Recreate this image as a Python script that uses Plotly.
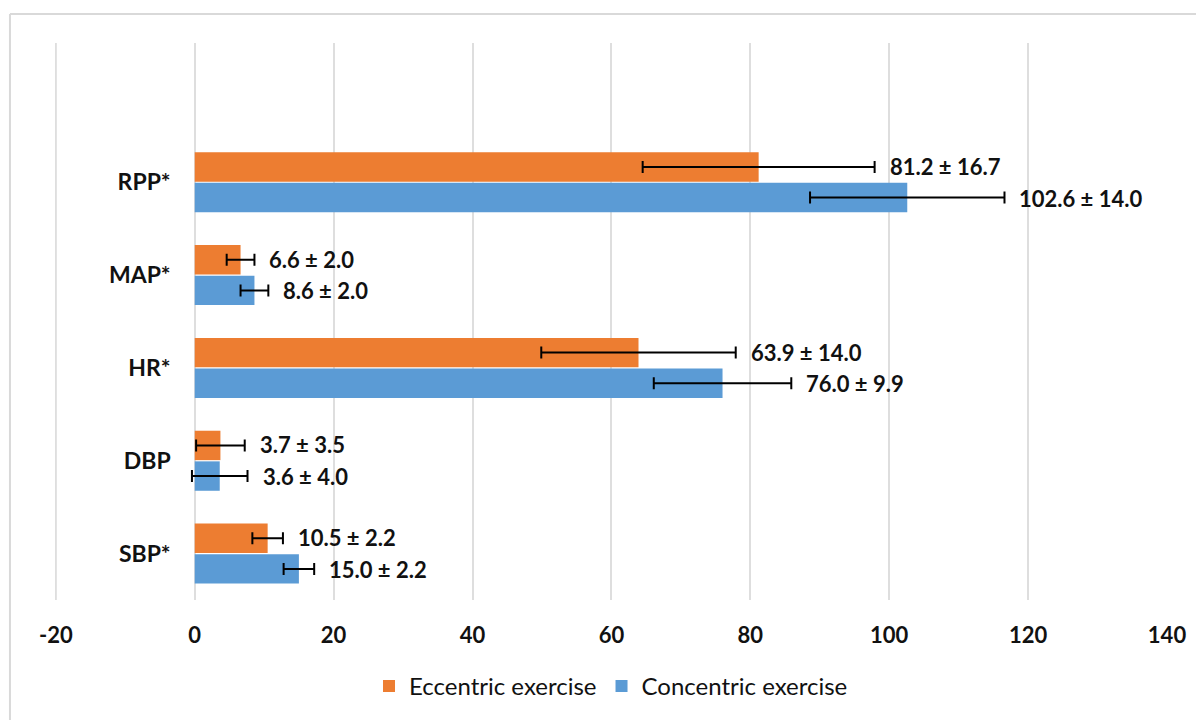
import plotly.graph_objects as go

categories = ["SBP*", "DBP", "HR*", "MAP*", "RPP*"]
eccentric_mean = [10.5, 3.7, 63.9, 6.6, 81.2]
eccentric_sd = [2.2, 3.5, 14.0, 2.0, 16.7]
concentric_mean = [15.0, 3.6, 76.0, 8.6, 102.6]
concentric_sd = [2.2, 4.0, 9.9, 2.0, 14.0]
x_ticks = [-20, 0, 20, 40, 60, 80, 100, 120, 140]

ORANGE = "#ED7D31"
BLUE = "#5B9BD5"
FONT = "Lato"
GRID = "#dedede"

ypos = list(range(len(categories)))

fig = go.Figure()
fig.add_trace(go.Bar(
    y=ypos, x=concentric_mean, orientation="h", name="Concentric exercise",
    marker=dict(color=BLUE, line=dict(width=0)),
    error_x=dict(type="data", array=concentric_sd, visible=True, color="black", thickness=2, width=6),
    legendrank=2,
))
fig.add_trace(go.Bar(
    y=ypos, x=eccentric_mean, orientation="h", name="Eccentric exercise",
    marker=dict(color=ORANGE, line=dict(width=0)),
    error_x=dict(type="data", array=eccentric_sd, visible=True, color="black", thickness=2, width=6),
    legendrank=1,
))

annotations = []
for i in ypos:
    annotations.append(dict(
        x=eccentric_mean[i] + eccentric_sd[i], y=i + 0.17, xref="x", yref="y",
        text=f"{eccentric_mean[i]:.1f} ± {eccentric_sd[i]:.1f}", showarrow=False,
        xanchor="left", yanchor="middle", xshift=13,
        font=dict(family=FONT, size=22, color="#111111", weight="bold"),
    ))
    annotations.append(dict(
        x=concentric_mean[i] + concentric_sd[i], y=i - 0.17, xref="x", yref="y",
        text=f"{concentric_mean[i]:.1f} ± {concentric_sd[i]:.1f}", showarrow=False,
        xanchor="left", yanchor="middle", xshift=13,
        font=dict(family=FONT, size=22, color="#111111", weight="bold"),
    ))

shapes = [
    # outer chart border (top and left edges visible in the reference)
    dict(type="line", xref="paper", yref="paper", x0=-0.0405, x1=1.2, y0=1.052, y1=1.052,
         line=dict(color="#d9d9d9", width=2)),
    dict(type="line", xref="paper", yref="paper", x0=-0.0405, x1=-0.0405, y0=1.052, y1=-0.35,
         line=dict(color="#d9d9d9", width=2)),
    # leftmost gridline at the first tick
    dict(type="line", xref="x", yref="paper", x0=x_ticks[0], x1=x_ticks[0], y0=0, y1=1,
         line=dict(color=GRID, width=2), layer="below"),
]

fig.update_layout(
    width=1196, height=712,
    margin=dict(l=47, r=37, t=35, b=120, autoexpand=False),
    paper_bgcolor="white", plot_bgcolor="white",
    barmode="group", bargap=0.34, bargroupgap=0.04,
    font=dict(family=FONT, color="#111111"),
    xaxis=dict(
        range=[-20.12, 140], tickvals=x_ticks, ticktext=[str(t) for t in x_ticks],
        showgrid=True, gridcolor=GRID, gridwidth=2,
        zeroline=True, zerolinecolor=GRID, zerolinewidth=2,
        showline=False, ticks="", ticklabelstandoff=20,
        tickfont=dict(family=FONT, size=22, color="#111111", weight="bold"),
        fixedrange=True, automargin=False,
    ),
    yaxis=dict(
        range=[-0.5, 5.5], tickvals=ypos, ticktext=categories,
        anchor="free", position=0.1256, side="left",
        showgrid=False, zeroline=False, showline=False, ticks="",
        ticklabelstandoff=24,
        tickfont=dict(family=FONT, size=23, color="#111111", weight="bold"),
        fixedrange=True, automargin=False,
    ),
    legend=dict(
        orientation="h", x=0.5, xanchor="center", y=-0.155, yanchor="middle",
        font=dict(family=FONT, size=24, color="#111111"),
        itemwidth=30,
    ),
    annotations=annotations,
    shapes=shapes,
)

fig.write_html("out.html")
